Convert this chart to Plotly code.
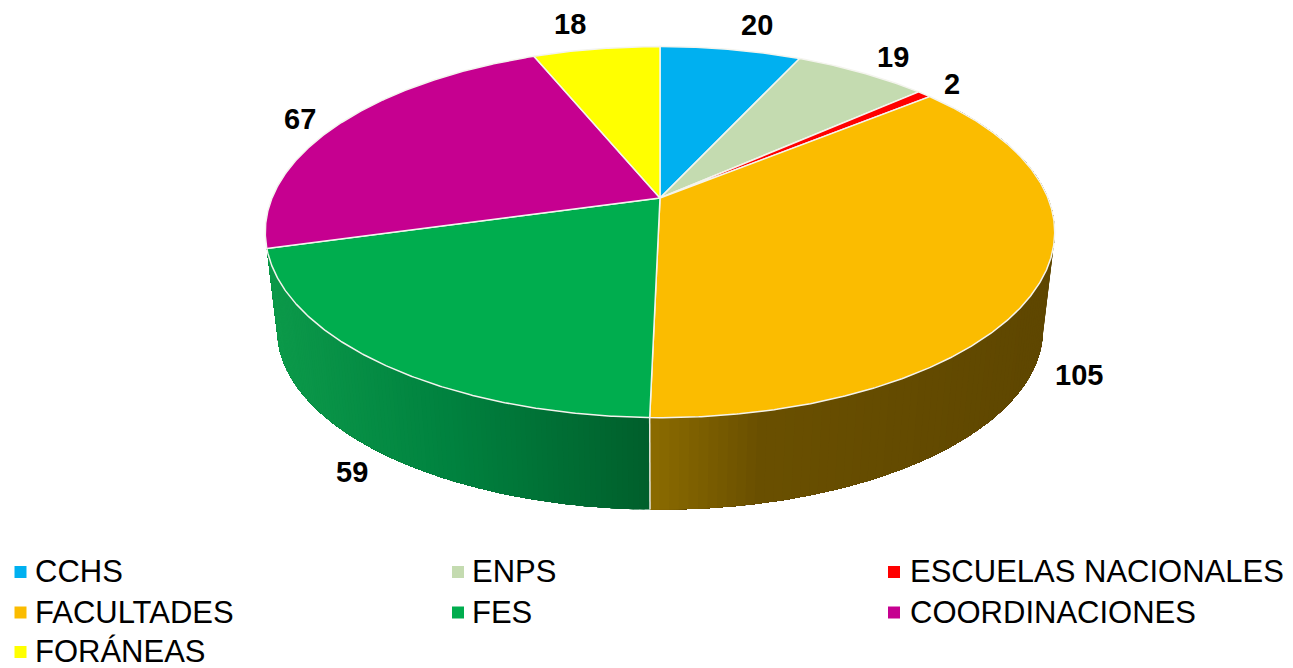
import numpy as np
import plotly.graph_objects as go

categories = ['CCHS', 'ENPS', 'ESCUELAS NACIONALES', 'FACULTADES', 'FES', 'COORDINACIONES', 'FORÁNEAS']
values = [20, 19, 2, 105, 59, 67, 18]
colors = ['#00B0F0', '#C4DBB0', '#FF0000', '#FBBC00', '#00AD4E', '#C60090', '#FFFF00']
label_x = [757, 893, 952, 1079, 352, 300, 570]
label_y = [25, 57, 84, 375, 472, 119, 24]

# pixel geometry of the tilted disc (axes below run in page pixels)
CX, TOP_Y, BOT_Y = 660, 198, 296.5
RX, RY, PERSP, BOT_SCALE = 388, 179.3, 0.1837, 0.97
LEG_COLS = [20.5, 458, 894]
LEG_TEXT_COLS = [33, 470, 908]
LEG_ROWS = [572, 612.5, 652]


def rim(theta, bottom=False):
    w = 1 + PERSP * np.cos(theta)
    s = BOT_SCALE if bottom else 1
    return CX + s * RX * np.sin(theta) / w, (BOT_Y if bottom else TOP_Y) - s * RY * np.cos(theta) / w


def side_color(x, stops):
    xs = [p[0] for p in stops]
    rgb = [int(np.interp(x, xs, [p[1][i] for p in stops])) for i in range(3)]
    return 'rgb(%d,%d,%d)' % tuple(rgb)


edges = np.radians(np.cumsum([0] + values) / sum(values) * 360)

side_stops = {
    3: [(650, (140, 108, 0)), (760, (106, 80, 0)), (1050, (95, 71, 0))],
    4: [(275, (12, 153, 74)), (450, (0, 130, 63)), (650, (0, 95, 44))],
}

fig = go.Figure()

# side wall: strips painted over each other, each one running to the far end, so no seams show
for i, stops in side_stops.items():
    t = np.linspace(edges[i], edges[i + 1], 110)
    for k in range(len(t) - 1):
        arc = t[k:]
        tx, ty = rim(arc)
        bx, by = rim(arc[::-1], bottom=True)
        c = side_color((rim(t[k])[0] + rim(t[k + 1])[0]) / 2, stops)
        fig.add_trace(go.Scatter(x=list(tx) + list(bx), y=list(ty) + list(by), mode='none', fill='toself',
                                 fillcolor=c, showlegend=False, hoverinfo='skip'))

sx, sy = rim(edges[4])
bx, by = rim(edges[4], bottom=True)
fig.add_trace(go.Scatter(x=[sx, bx], y=[sy, by], mode='lines', line=dict(color='#E8E8E0', width=1.5),
                         showlegend=False, hoverinfo='skip'))

# top face
for i, name in enumerate(categories):
    t = np.linspace(edges[i], edges[i + 1], max(int(values[i] * 4), 8))
    x, y = rim(t)
    fig.add_trace(go.Scatter(x=[CX] + list(x) + [CX], y=[TOP_Y] + list(y) + [TOP_Y], mode='lines', fill='toself',
                             fillcolor=colors[i], line=dict(color='#F4F4EE', width=1.5), name=name,
                             showlegend=False, hoverinfo='name'))

# legend, laid out by hand: three columns, row by row
for i, name in enumerate(categories):
    col, row = i % 3, i // 3
    fig.add_trace(go.Scatter(x=[LEG_COLS[col]], y=[LEG_ROWS[row]], mode='markers', name=name, showlegend=False,
                             hoverinfo='name', marker=dict(symbol='square', size=12, color=colors[i])))
    fig.add_annotation(x=LEG_TEXT_COLS[col], y=LEG_ROWS[row] - 0.5, text=name, showarrow=False, xanchor='left',
                       font=dict(family='Liberation Sans', size=31, color='#000000'))

for v, x, y in zip(values, label_x, label_y):
    fig.add_annotation(x=x, y=y, text=str(v), showarrow=False,
                       font=dict(family='Liberation Sans', size=29, color='#000000', weight='bold'))

# the page keeps its 8px body margin, so the plot starts at (8, 8)
fig.update_layout(
    width=1285, height=660,
    margin=dict(l=0, r=0, t=0, b=0),
    paper_bgcolor='#FFFFFF', plot_bgcolor='#FFFFFF',
    showlegend=False,
    xaxis=dict(range=[8, 1293], visible=False, fixedrange=True),
    yaxis=dict(range=[668, 8], visible=False, fixedrange=True),
)
fig.write_html("out.html")
